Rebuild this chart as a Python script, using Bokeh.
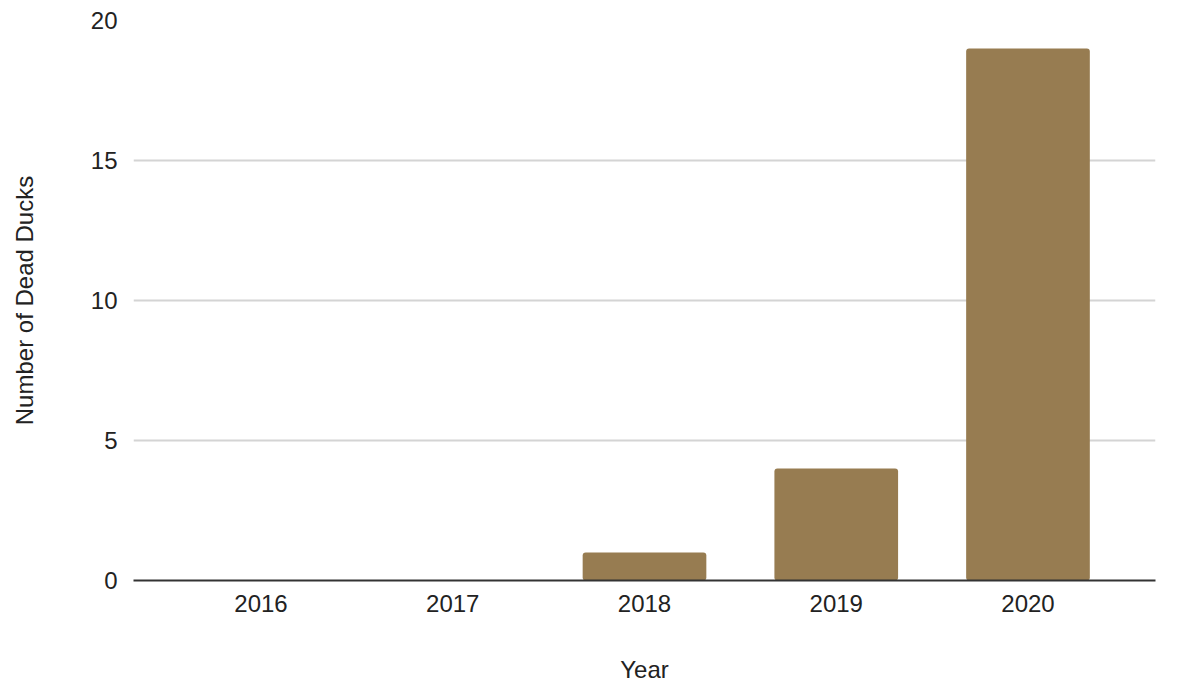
from bokeh.plotting import figure
from bokeh.embed import file_html
from bokeh.resources import INLINE
from bokeh.models import ColumnDataSource, FixedTicker

years = ["2016", "2017", "2018", "2019", "2020"]
dead_counts = [0, 0, 1, 4, 19]
y_ticks = [0, 5, 10, 15, 20]

src = ColumnDataSource(data=dict(year=years, count=dead_counts))

p = figure(x_range=years, y_range=(0, 20), width=1183, height=689,
           output_backend="svg", toolbar_location=None,
           min_border_left=133, min_border_right=28,
           min_border_top=20, min_border_bottom=109)
p.x_range.range_padding = 0.165
p.x_range.range_padding_units = "absolute"

p.vbar(x="year", top="count", width=0.645, source=src,
       fill_color="#977c51", line_color=None, border_radius=3)

p.outline_line_color = None
p.background_fill_color = "white"
p.border_fill_color = "white"

font = "Liberation Sans"
p.xgrid.grid_line_color = None
p.ygrid.grid_line_color = "#d4d4d4"
p.ygrid.grid_line_width = 2
p.yaxis.ticker = FixedTicker(ticks=y_ticks)

for ax in (p.xaxis, p.yaxis):
    ax.major_tick_line_color = None
    ax.minor_tick_line_color = None
    ax.major_tick_out = 0
    ax.major_tick_in = 0
    ax.minor_tick_out = 0
    ax.minor_tick_in = 0
    ax.major_label_text_font = font
    ax.major_label_text_font_size = "24px"
    ax.major_label_text_color = "#222222"
    ax.axis_label_text_font = font
    ax.axis_label_text_font_size = "24px"
    ax.axis_label_text_font_style = "normal"
    ax.axis_label_text_color = "#222222"

p.yaxis.axis_line_color = None
p.xaxis.axis_line_color = "#333333"
p.xaxis.axis_line_width = 2

p.xaxis.axis_label = "Year"
p.yaxis.axis_label = "Number of Dead Ducks"
p.xaxis.major_label_standoff = 14
p.xaxis.axis_label_standoff = 41
p.yaxis.major_label_standoff = 16
p.yaxis.axis_label_standoff = 50

open("out.html", "w").write(file_html(p, INLINE))
